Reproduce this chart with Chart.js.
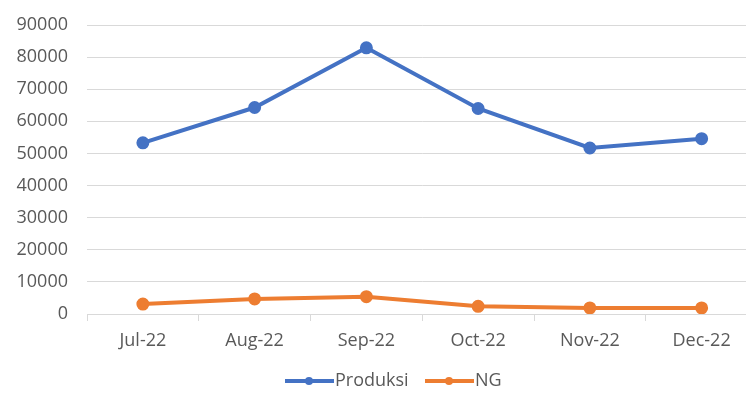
<!DOCTYPE html>
<html>
<head>
<meta charset="utf-8">
<script src="https://cdn.jsdelivr.net/npm/chart.js@4"></script>
<style>
  html, body { margin: 0; padding: 0; background: #fff; overflow: hidden; }
  #wrap { width: 746px; height: 399px; overflow: hidden; }
</style>
</head>
<body>
<div id="wrap"><canvas id="chart" width="766" height="399"></canvas></div>
<script>
// data
const months = ["Jul-22", "Aug-22", "Sep-22", "Oct-22", "Nov-22", "Dec-22"];
const produksi = [53300, 64300, 82900, 64000, 51700, 54600];
const ng = [3100, 4700, 5400, 2400, 1900, 1900];

const blue = "#4472C4";
const orange = "#ED7D31";
const textColour = "#595959";
const fontFamily = "'Open Sans', 'Liberation Sans', sans-serif";

// excel style legend: line with a dot in the middle, then the label
const legendPlugin = {
    id: "excel_legend",
    afterDraw: (chart) => {
        const ctx = chart.ctx;
        const items = [
            { x: 285, label: "Produksi", colour: blue },
            { x: 425, label: "NG", colour: orange },
        ];
        const y = 381;
        ctx.save();
        ctx.font = `18px ${fontFamily}`;
        ctx.textBaseline = "middle";
        ctx.textAlign = "left";
        for (const item of items) {
            ctx.strokeStyle = item.colour;
            ctx.fillStyle = item.colour;
            ctx.lineWidth = 4;
            ctx.beginPath();
            ctx.moveTo(item.x, y);
            ctx.lineTo(item.x + 49, y);
            ctx.stroke();
            ctx.beginPath();
            ctx.arc(item.x + 24, y, 4, 0, Math.PI * 2);
            ctx.fill();
            ctx.fillStyle = textColour;
            ctx.fillText(item.label, item.x + 50, y);
        }
        ctx.restore();
    }
};

const ctx = document.getElementById("chart").getContext("2d");
new Chart(ctx, {
    type: "line",
    data: {
        labels: months,
        datasets: [
            {
                label: "Produksi", data: produksi,
                borderColor: blue, backgroundColor: blue,
                borderWidth: 4, pointRadius: 4.5, pointHoverRadius: 4.5,
                tension: 0,
            },
            {
                label: "NG", data: ng,
                borderColor: orange, backgroundColor: orange,
                borderWidth: 4, pointRadius: 4.5, pointHoverRadius: 4.5,
                tension: 0,
            },
        ]
    },
    options: {
        responsive: false,
        animation: false,
        devicePixelRatio: 1,
        layout: { padding: { top: 25, right: 0, bottom: 39, left: 0 } },
        plugins: {
            legend: { display: false },
            tooltip: { enabled: false },
        },
        scales: {
            x: {
                offset: true,
                grid: {
                    offset: true,
                    drawOnChartArea: false,
                    drawTicks: true,
                    tickLength: 7,
                    color: "#d9d9d9",
                },
                border: { color: "#d9d9d9" },
                ticks: {
                    color: textColour,
                    font: { family: fontFamily, size: 18 },
                    padding: 9,
                    maxRotation: 0,
                },
                afterFit: (scale) => { scale.height = 46; },
            },
            y: {
                min: 0,
                max: 90000,
                grid: { color: "#d9d9d9", drawTicks: false },
                border: { display: false },
                ticks: {
                    stepSize: 10000,
                    color: textColour,
                    font: { family: fontFamily, size: 18 },
                    padding: 19,
                    callback: (value) => String(value),
                },
                afterFit: (scale) => {
                    scale.width = 87;
                    scale.paddingTop = 0;
                    scale.paddingBottom = 0;
                },
            }
        }
    },
    plugins: [legendPlugin],
});
</script>
</body>
</html>
